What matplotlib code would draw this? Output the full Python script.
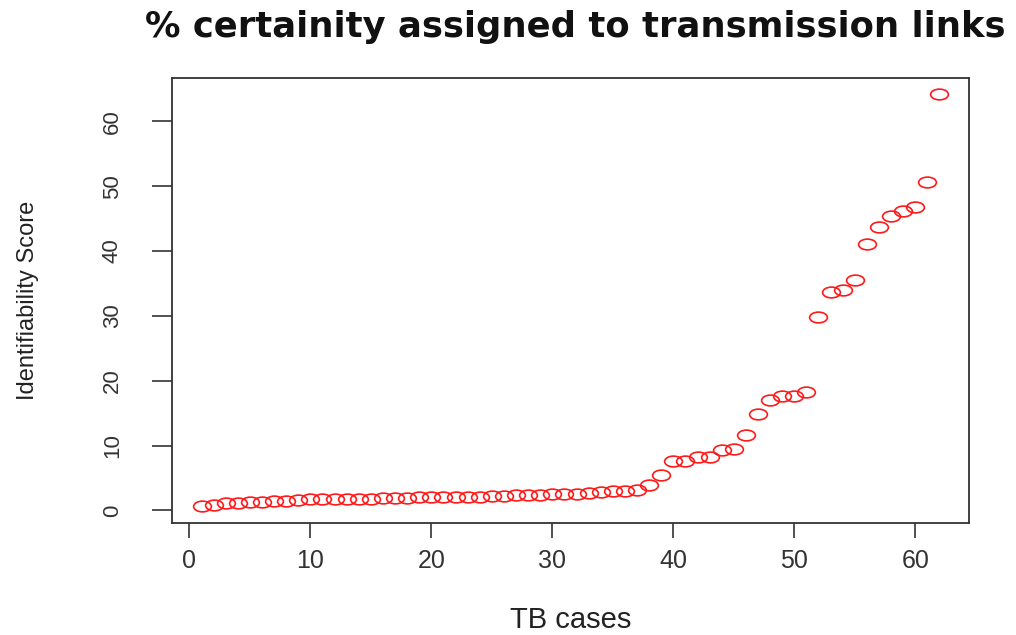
import matplotlib

matplotlib.use("Agg")
import matplotlib.pyplot as plt
from matplotlib.path import Path
from matplotlib.transforms import Affine2D

# identifiability score per TB case, sorted ascending
cases = list(range(1, 63))
scores = [
    0.6, 0.9, 1.1, 1.2, 1.3, 1.3, 1.4, 1.5, 1.6, 1.7,
    1.7, 1.7, 1.8, 1.8, 1.8, 1.9, 1.9, 1.9, 2.0, 2.0,
    2.0, 2.0, 2.1, 2.1, 2.2, 2.2, 2.3, 2.4, 2.4, 2.5,
    2.6, 2.6, 2.7, 2.9, 3.0, 3.0, 3.1, 3.9, 5.4, 7.6,
    7.6, 8.3, 8.3, 9.3, 9.5, 11.7, 14.8, 17.1, 17.7, 17.7,
    18.3, 29.9, 33.7, 34.0, 35.5, 41.1, 43.7, 45.4, 46.2, 46.8,
    50.7, 64.2,
]
xticks = [0, 10, 20, 30, 40, 50, 60]
yticks = [0, 10, 20, 30, 40, 50, 60]

plt.rcParams["font.family"] = ["Liberation Sans", "DejaVu Sans"]

fig = plt.figure(figsize=(10.16, 6.35), dpi=100)
ax = fig.add_axes([0.1693, 0.1764, 0.7844, 0.7012])

# the reference is stretched sideways, so the circles are flat ellipses
ellipse = Path.unit_circle().transformed(Affine2D().scale(1.65, 1.0))
ax.plot(cases, scores, linestyle="none", marker=ellipse, markersize=12.8,
        markerfacecolor="none", markeredgecolor="#ff1a1a", markeredgewidth=1.2)

# R-style 4% padding
span_x = max(cases) - min(cases)
span_y = max(scores) - min(scores)
ax.set_xlim(min(cases) - 0.04 * span_x, max(cases) + 0.04 * span_x)
ax.set_ylim(min(scores) - 0.04 * span_y, max(scores) + 0.04 * span_y)

ax.set_xticks(xticks)
ax.set_yticks(yticks)
ax.tick_params(axis="x", length=10.8, width=1.2, pad=8, labelsize=18, colors="#333333")
ax.tick_params(axis="y", length=14.4, width=1.2, pad=21, labelsize=16, colors="#333333")
for lab in ax.get_yticklabels():
    lab.set_rotation(90)
    lab.set_va("center")
for spine in ax.spines.values():
    spine.set_linewidth(1.3)
    spine.set_color("#333333")

ax.set_xlabel("TB cases", fontsize=21, color="#222222")
ax.xaxis.set_label_coords(0.5, -0.218)
ax.xaxis.label.set_va("center")
ax.set_ylabel("Identifiability Score", fontsize=17, color="#222222")
ax.yaxis.set_label_coords(-0.181, 0.5)
ax.yaxis.label.set_va("center")

fig.text(0.566, 0.958, "% certainity assigned to transmission links",
         ha="center", va="center", fontsize=25.5, fontweight="bold",
         family="DejaVu Sans", color="#111111")

fig.savefig("out.png", dpi=100)
